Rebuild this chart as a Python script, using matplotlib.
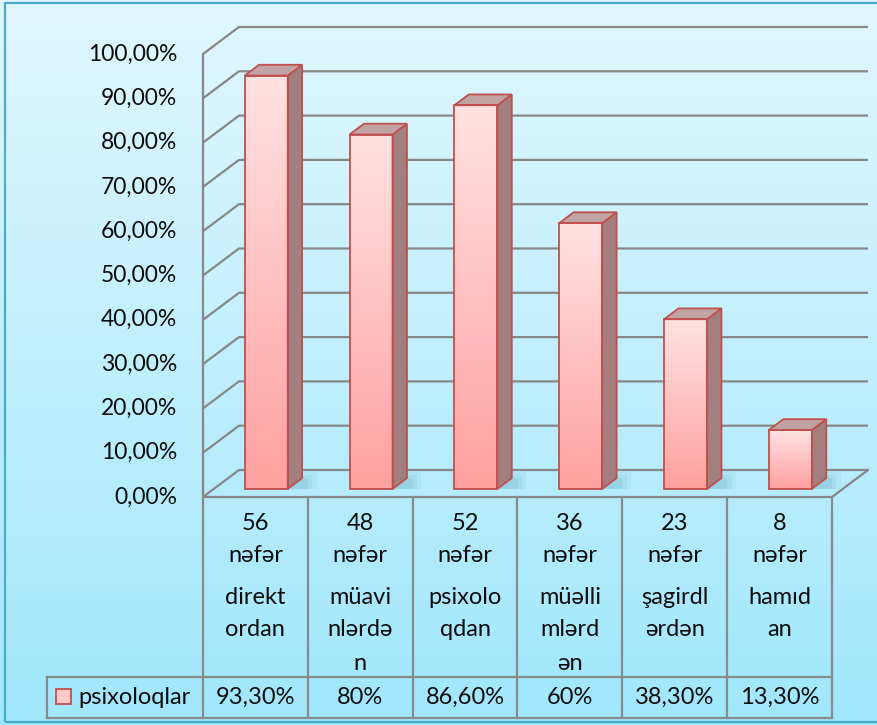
import numpy as np
import matplotlib
matplotlib.use("Agg")
from matplotlib import pyplot as plt
from matplotlib.patches import Polygon, Rectangle

plt.rcParams['font.family'] = ['Lato', 'DejaVu Sans']

# data
counts = ["56", "48", "52", "36", "23", "8"]
groups = ["direkt\nordan", "müavi\nnlərdə\nn", "psixolo\nqdan",
          "müəlli\nmlərd\nən", "şagirdl\nərdən", "hamıd\nan"]
values = [93.3, 80.0, 86.6, 60.0, 38.3, 13.3]
value_labels = ["93,30%", "80%", "86,60%", "60%", "38,30%", "13,30%"]
series_name = "psixoloqlar"
yticks = np.arange(0, 101, 10)

W, H = 878, 725
fig = plt.figure(figsize=(W / 100, H / 100), dpi=100)

# background gradient
bg = fig.add_axes([0, 0, 1, 1], zorder=0)
c_top = np.array([225, 247, 254]) / 255
c_bot = np.array([160, 231, 252]) / 255
grad = np.linspace(0, 1, 256)[:, None, None] * (c_bot - c_top) + c_top
bg.imshow(grad, aspect='auto', extent=[0, 1, 0, 1], origin='upper')
bg.set_axis_off()

# main axes: x in categories, y in percent
ax = fig.add_axes([0, 0, 1, 1], zorder=1)
ax.patch.set_alpha(0)
ax.set_axis_off()
px_x = 629 / 6      # pixels per category
px_y = 4.43         # pixels per percent
x0_px, y0_px = 203, 497
xlim = (-0.5 - x0_px / px_x, -0.5 + (W - x0_px) / px_x)
ylim = (-(H - y0_px) / px_y, y0_px / px_y)

n = len(values)
DX, DY = 36 / px_x, 27 / px_y      # depth of the floor
grid_c = '#878787'
txt_c = '#0d0d0d'
left, right = -0.5, n - 0.5

# walls / gridlines
for t in yticks:
    ax.plot([left, left + DX, right + DX], [t, t + DY, t + DY],
            color=grid_c, lw=1.6, zorder=2, solid_capstyle='butt')
    lab = f"{t:.2f}".replace('.', ',') + '%'
    ax.text(left - 26 / px_x, t, lab, ha='right', va='center',
            fontsize=16.5, color=txt_c, zorder=5)
ax.plot([left, left], [0, 100], color=grid_c, lw=1.6, zorder=2)
# floor
ax.plot([left, right, right + DX], [0, 0, DY], color=grid_c, lw=1.6, zorder=2)

# bars
pink = np.array([[255, 226, 226], [255, 160, 160]]) / 255
pgrad = np.linspace(0, 1, 128)[:, None, None] * (pink[1] - pink[0]) + pink[0]
edge = '#C0504D'
bw = 43 / px_x
d0, d1 = 0.3, 0.4
for i, v in enumerate(values):
    x1 = i - bw / 2 + d0 * DX
    x2 = x1 + bw
    yb = d0 * DY
    yt = yb + v
    ddx, ddy = d1 * DX, d1 * DY
    # soft shadow on the floor, behind the right side
    for k, a in zip([1.0, 0.7, 0.4], [0.06, 0.08, 0.10]):
        ax.add_patch(Polygon([[x2 - 0.05, yb], [x2 + ddx * (1 + k), yb],
                              [x2 + ddx * (1 + k), yb + ddy * (0.6 + k)],
                              [x2, yb + ddy * (0.6 + k)]],
                             closed=True, facecolor='#2f7f95', alpha=a,
                             edgecolor='none', zorder=2.5))
    ax.imshow(pgrad, aspect='auto', extent=[x1, x2, yb, yt], origin='upper',
              zorder=3)
    ax.add_patch(Rectangle((x1, yb), bw, v, fill=False, edgecolor=edge,
                           lw=1.3, zorder=3.2))
    ax.add_patch(Polygon([[x2, yb], [x2 + ddx, yb + ddy], [x2 + ddx, yt + ddy],
                          [x2, yt]], closed=True, facecolor='#A47F7F',
                         edgecolor=edge, lw=1.3, zorder=3.1))
    ax.add_patch(Polygon([[x1, yt], [x2, yt], [x2 + ddx, yt + ddy],
                          [x1 + ddx, yt + ddy]], closed=True,
                         facecolor='#C2A3A3', edgecolor=edge, lw=1.3,
                         zorder=3.1))

# data table
tab_c = '#8A8A8A'
y_row = -(677 - y0_px) / px_y
y_bot = -(718 - y0_px) / px_y
x_lab = left - (x0_px - 47) / px_x
for k in range(n + 1):
    ax.plot([left + k, left + k], [0, y_bot], color=tab_c, lw=1.6, zorder=4)
ax.plot([x_lab, right], [y_row, y_row], color=tab_c, lw=1.6, zorder=4)
ax.plot([x_lab, right], [y_bot, y_bot], color=tab_c, lw=1.6, zorder=4)
ax.plot([x_lab, x_lab], [y_row, y_bot], color=tab_c, lw=1.6, zorder=4)

fs = 17
pitch = 33 / px_y
for i in range(n):
    ax.text(i, -(523 - y0_px) / px_y, counts[i], ha='center', va='center',
            fontsize=fs, color=txt_c, zorder=5)
    ax.text(i, -(556 - y0_px) / px_y, "nəfər", ha='center', va='center',
            fontsize=fs, color=txt_c, zorder=5)
    for j, part in enumerate(groups[i].split('\n')):
        ax.text(i, -(597 - y0_px) / px_y - j * pitch, part, ha='center',
                va='center', fontsize=fs, color=txt_c, zorder=5)
    ax.text(i, -(697 - y0_px) / px_y, value_labels[i], ha='center',
            va='center', fontsize=fs, color=txt_c, zorder=5)

# legend key in the table
kx = left - (x0_px - 56) / px_x
ky = -(704 - y0_px) / px_y
ax.add_patch(Rectangle((kx, ky), 15 / px_x, 15 / px_y, facecolor='#FFC9C9',
                       edgecolor=edge, lw=1.3, zorder=5))
ax.text(left - (x0_px - 78) / px_x, -(697 - y0_px) / px_y, series_name,
        ha='left', va='center', fontsize=fs, color=txt_c, zorder=5)

ax.set_xlim(*xlim)
ax.set_ylim(*ylim)

# chart frame
fig.add_artist(Rectangle((5 / W, 3 / H), 1.0, 719 / H, transform=fig.transFigure,
                         fill=False, edgecolor='#4BACC6', lw=1.6, zorder=10))

fig.savefig("out.png", dpi=100)
